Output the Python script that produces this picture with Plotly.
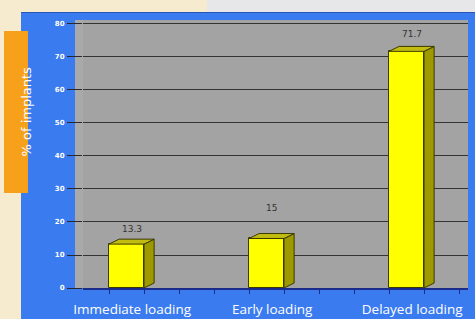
import plotly.graph_objects as go

categories = ["Immediate loading", "Early loading", "Delayed loading"]
values = [13.3, 15, 71.7]
value_labels = ["13.3", "15", "71.7"]
y_ticks = [0, 10, 20, 30, 40, 50, 60, 70, 80]

W, H = 475, 319
L, R, T, B = 83, 7, 20, 31
PW, PH = W - L - R, H - T - B

def px_x(px):
    return (px - L) / PW

def px_y(py):
    return (H - B - py) / PH

pos = list(range(len(categories)))
bw = 0.25
dx = 0.072   # depth offset (x units)
dy = 1.5     # depth offset (y units)
label_shift = [12, 28, 14]

fig = go.Figure()
fig.add_trace(go.Bar(x=pos, y=values, width=bw,
                     marker=dict(color="#ffff00", line=dict(color="#3a3a00", width=1)),
                     hoverinfo="skip", showlegend=False))
for xi, v in zip(pos, values):
    xr = xi + bw / 2
    xl = xi - bw / 2
    fig.add_trace(go.Scatter(x=[xr, xr + dx, xr + dx, xr, xr], y=[0, dy, v + dy, v, 0],
                             fill="toself", fillcolor="#9f9900", mode="lines",
                             line=dict(color="#3a3a00", width=1), showlegend=False, hoverinfo="skip"))
    fig.add_trace(go.Scatter(x=[xl, xr, xr + dx, xl + dx, xl], y=[v, v, v + dy, v + dy, v],
                             fill="toself", fillcolor="#c2bc10", mode="lines",
                             line=dict(color="#3a3a00", width=1), showlegend=False, hoverinfo="skip"))

for i, (xi, v, t) in enumerate(zip(pos, values, value_labels)):
    fig.add_annotation(x=xi + dx / 2, y=v + dy, text=t, showarrow=False, yanchor="bottom",
                       yshift=label_shift[i] - 9, font=dict(size=9, color="#333333", family="DejaVu Sans"))

shapes = [
    dict(type="rect", xref="paper", yref="paper", x0=px_x(0), x1=px_x(21), y0=px_y(319), y1=px_y(0),
         fillcolor="#f6ebcf", line=dict(width=0), layer="below"),
    dict(type="rect", xref="paper", yref="paper", x0=px_x(0), x1=px_x(207), y0=px_y(12), y1=px_y(0),
         fillcolor="#f6ebcf", line=dict(width=0), layer="below"),
    dict(type="rect", xref="paper", yref="paper", x0=px_x(207), x1=px_x(475), y0=px_y(12), y1=px_y(0),
         fillcolor="#e7e7e9", line=dict(width=0), layer="below"),
    dict(type="line", xref="paper", yref="paper", x0=px_x(21), x1=px_x(475), y0=px_y(12.5), y1=px_y(12.5),
         line=dict(color="#2a55b0", width=1), layer="below"),
    dict(type="rect", xref="paper", yref="paper", x0=px_x(75), x1=px_x(83), y0=px_y(288), y1=px_y(20),
         fillcolor="#a9a9a9", line=dict(width=0), layer="below"),
    dict(type="rect", xref="paper", yref="paper", x0=px_x(4), x1=px_x(28), y0=px_y(193), y1=px_y(31),
         fillcolor="#f7a01a", line=dict(width=0), layer="below"),
]

fig.add_annotation(xref="paper", yref="paper", x=px_x(16), y=px_y(112), text="% of implants",
                   textangle=-90, showarrow=False, font=dict(size=13, color="white", family="DejaVu Sans"))

fig.update_layout(
    width=W, height=H, margin=dict(l=L, r=R, t=T, b=B, autoexpand=False),
    paper_bgcolor="#3b7bf0", plot_bgcolor="#a3a3a3",
    shapes=shapes, bargap=0,
    xaxis=dict(range=[-0.311, 2.439], tickvals=[p + 0.04 for p in pos], ticktext=categories,
               showgrid=False, zeroline=False, showline=True, linecolor="#1c2c8a", linewidth=2,
               ticks="", tickfont=dict(size=13.5, color="white", family="Open Sans"),
               ticklabelstandoff=8, automargin=False,
               minor=dict(tick0=-0.125, dtick=0.25, ticks="outside", ticklen=4, tickcolor="#1c2c8a"),
               fixedrange=True),
    yaxis=dict(range=[0, 81.2], tickvals=y_ticks, ticks="outside", ticklen=15, tickcolor="#2a2a2a",
               showgrid=True, gridcolor="#333333", gridwidth=1, zeroline=False,
               tickfont=dict(size=7, color="white", family="DejaVu Sans", weight="bold"),
               ticklabelstandoff=1, fixedrange=True, automargin=False),
    font=dict(family="Lato"),
)

fig.write_html("out.html", config={"displayModeBar": False},
               post_script="document.body.style.margin='0';document.body.style.overflow='hidden';")
